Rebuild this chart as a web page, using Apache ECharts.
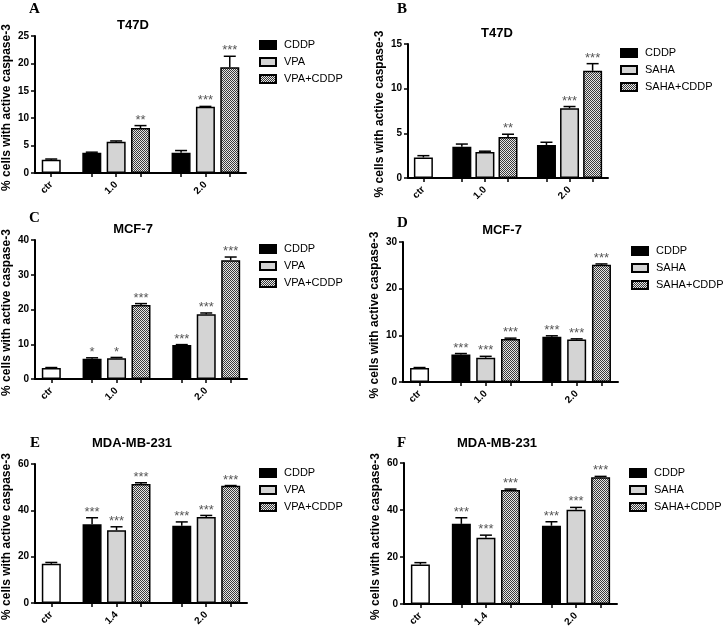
<!DOCTYPE html>
<html><head><meta charset="utf-8">
<script src="https://cdn.jsdelivr.net/npm/echarts@6/dist/echarts.min.js"></script>
<style>html,body{margin:0;padding:0;background:#fff}#c{width:728px;height:631px}</style>
</head><body><div id="c"></div>
<script>
// ---------------- data ----------------
const panelLetters = ['A','B','C','D','E','F'];
const cellLines = ['T47D','T47D','MCF-7','MCF-7','MDA-MB-231','MDA-MB-231'];
const drugNames = ['VPA','SAHA','VPA','SAHA','VPA','SAHA'];
const doseLabels = [['1.0','2.0'],['1.0','2.0'],['1.0','2.0'],['1.0','2.0'],['1.4','2.0'],['1.4','2.0']];
const yMax = [25,15,40,30,60,60];
const yStep = [5,5,10,10,20,20];
const yAxisName = '% cells with active caspase-3';
const ctrValues = [2.4,2.3,3.2,3.0,16.9,16.8];
const ctrErrors = [0.15,0.2,0.1,0.1,0.6,0.8];
const cddpValues = [[3.7,3.7],[3.5,3.7],[5.8,9.8],[5.9,9.7],[34.0,33.3],[34.1,33.3]];
const cddpErrors = [[0.1,0.4],[0.3,0.3],[0.3,0.1],[0.2,0.2],[2.8,1.7],[2.6,1.7]];
const drugValues = [[5.7,12.1],[2.9,7.8],[6.0,18.6],[5.2,9.1],[31.4,37.1],[28.2,40.1]];
const drugErrors = [[0.15,0.05],[0.1,0.2],[0.2,0.4],[0.3,0.15],[1.5,0.7],[1.1,1.0]];
const comboValues = [[8.2,19.3],[4.6,12.0],[21.3,34.2],[9.2,25.1],[51.4,50.6],[48.5,53.9]];
const comboErrors = [[0.45,2.0],[0.3,0.8],[0.4,0.9],[0.2,0.2],[0.5,0.1],[0.4,0.4]];
const cddpSig = [['',''],['',''],['*','***'],['***','***'],['***','***'],['***','***']];
const drugSig = [['','***'],['','***'],['*','***'],['***','***'],['***','***'],['***','***']];
const comboSig = [['**','***'],['**','***'],['***','***'],['***','***'],['***','***'],['***','***']];

// ---------------- layout ----------------
const grids = [
  {left:35, top:36, width:211, height:137},
  {left:408, top:44, width:200, height:134},
  {left:34, top:240, width:213, height:139},
  {left:403, top:242, width:215, height:140},
  {left:34, top:464, width:213, height:139},
  {left:404, top:463, width:213, height:141}
];
const titlePos = [[133,25],[497,33],[133,229],[502,230],[132,443],[497,443]];
const letterPos = [[29,9.5],[397,9],[29,218.5],[397,223],[30,443],[397,443]];
const legendPos = [[259,39],[620,47],[259,243],[631,245],[259,467],[629,467]];
const SLOT_COUNT = 27, CTR_SLOT = 2;
const GROUP_SLOTS = [[7,10,13],[18,21,24]]; // [dose][cddp, drug, combo]
const SANS = 'Liberation Sans, Arial, sans-serif';
const SERIF = 'Liberation Serif, Times New Roman, serif';

// checkered pattern for combination bars
const pc = document.createElement('canvas');
pc.width = 2; pc.height = 2;
const pctx = pc.getContext('2d');
pctx.fillStyle = '#e6e6e6'; pctx.fillRect(0,0,2,2);
pctx.fillStyle = '#3a3a3a'; pctx.fillRect(0,0,1,1); pctx.fillRect(1,1,1,1);
const checker = {image: pc, repeat: 'repeat'};

const categories = Array.from({length: SLOT_COUNT}, (_, i) => 's' + i);
const barSlots = [CTR_SLOT].concat(GROUP_SLOTS[0], GROUP_SLOTS[1]);

const xAxes = [], yAxes = [], series = [], legends = [], graphics = [];
const baseBar = {type:'bar', barWidth:19, barGap:'-100%', itemStyle:{borderColor:'#000', borderWidth:1.5}};

for (let p = 0; p < 6; p++) {
  const labelAt = {};
  labelAt[CTR_SLOT] = 'ctr';
  labelAt[GROUP_SLOTS[0][1]] = doseLabels[p][0];
  labelAt[GROUP_SLOTS[1][1]] = doseLabels[p][1];
  xAxes.push({
    gridIndex:p, type:'category', data:categories, boundaryGap:false,
    axisLine:{lineStyle:{color:'#000', width:2}},
    axisTick:{interval:(i) => barSlots.indexOf(i) >= 0, length:4, lineStyle:{color:'#000', width:1.5}},
    axisLabel:{interval:0, rotate:45, margin:10, formatter:(v, i) => labelAt[i] || '',
      fontSize:10, fontWeight:'bold', color:'#000', fontFamily:SANS},
    splitLine:{show:false}
  });
  yAxes.push({
    gridIndex:p, type:'value', min:0, max:yMax[p], interval:yStep[p],
    axisLine:{show:true, lineStyle:{color:'#000', width:2}},
    axisTick:{show:true, length:4, lineStyle:{color:'#000', width:1.5}},
    splitLine:{show:false},
    axisLabel:{fontSize:10, fontWeight:'bold', color:'#000', margin:6, fontFamily:SANS},
    name:yAxisName, nameLocation:'middle', nameGap:22, nameRotate:90,
    nameTextStyle:{fontSize:12, fontWeight:'bold', color:'#000', fontFamily:SANS, padding:[0,6,0,0]}
  });
  const empty = () => new Array(SLOT_COUNT).fill(null);
  const ctrData = empty(); ctrData[CTR_SLOT] = ctrValues[p];
  const cddpData = empty(), drugData = empty(), comboData = empty();
  const errRows = [[CTR_SLOT, ctrValues[p], ctrErrors[p], '']];
  for (let g = 0; g < 2; g++) {
    cddpData[GROUP_SLOTS[g][0]] = cddpValues[p][g];
    drugData[GROUP_SLOTS[g][1]] = drugValues[p][g];
    comboData[GROUP_SLOTS[g][2]] = comboValues[p][g];
    errRows.push([GROUP_SLOTS[g][0], cddpValues[p][g], cddpErrors[p][g], cddpSig[p][g]]);
    errRows.push([GROUP_SLOTS[g][1], drugValues[p][g], drugErrors[p][g], drugSig[p][g]]);
    errRows.push([GROUP_SLOTS[g][2], comboValues[p][g], comboErrors[p][g], comboSig[p][g]]);
  }
  const drug = drugNames[p], combo = drugNames[p] + '+CDDP';
  series.push(Object.assign({}, baseBar, {name:'ctr', xAxisIndex:p, yAxisIndex:p, data:ctrData,
    itemStyle:{color:'#fff', borderColor:'#000', borderWidth:1.5}}));
  series.push(Object.assign({}, baseBar, {name:'CDDP', xAxisIndex:p, yAxisIndex:p, data:cddpData,
    itemStyle:{color:'#000', borderColor:'#000', borderWidth:1.5}}));
  series.push(Object.assign({}, baseBar, {name:drug, xAxisIndex:p, yAxisIndex:p, data:drugData,
    itemStyle:{color:'#d4d4d4', borderColor:'#000', borderWidth:1.5}}));
  series.push(Object.assign({}, baseBar, {name:combo, xAxisIndex:p, yAxisIndex:p, data:comboData,
    itemStyle:{color:checker, borderColor:'#000', borderWidth:1.5}}));
  series.push({
    type:'custom', xAxisIndex:p, yAxisIndex:p, z:5, silent:true,
    data: errRows.map(r => [r[0], r[1], r[2]]),
    renderItem: (params, api) => {
      const d = errRows[params.dataIndex];
      const base = api.coord([d[0], d[1]]);
      const top = api.coord([d[0], d[1] + d[2]]);
      const children = [];
      if (d[2] > 0) {
        children.push({type:'line', shape:{x1:base[0], y1:base[1], x2:top[0], y2:top[1]},
          style:{stroke:'#000', lineWidth:1.5}});
        children.push({type:'line', shape:{x1:top[0]-6, y1:top[1], x2:top[0]+6, y2:top[1]},
          style:{stroke:'#000', lineWidth:1.5}});
      }
      if (d[3]) {
        children.push({type:'text', x:top[0], y:top[1] + 1,
          style:{text:d[3], align:'center', verticalAlign:'bottom', fill:'#555', font:'13px ' + SANS}});
      }
      return {type:'group', children};
    }
  });
  legends.push({
    orient:'vertical', left:legendPos[p][0], top:legendPos[p][1], padding:0,
    itemWidth:16, itemHeight:8, itemGap:5, icon:'rect', selectedMode:false,
    data:['CDDP', drug, combo],
    textStyle:{fontSize:11, color:'#000', fontFamily:SANS, lineHeight:12, padding:[0,0,0,3]}
  });
  graphics.push({type:'text', x:titlePos[p][0], y:titlePos[p][1],
    style:{text:cellLines[p], align:'center', verticalAlign:'middle', fill:'#000',
      font:'bold 13px ' + SANS}});
  graphics.push({type:'text', x:letterPos[p][0], y:letterPos[p][1],
    style:{text:panelLetters[p], align:'left', verticalAlign:'middle', fill:'#000',
      font:'bold 15px ' + SERIF}});
}

const chart = echarts.init(document.getElementById('c'));
chart.setOption({
  animation:false,
  backgroundColor:'#fff',
  grid:grids.map(g => Object.assign({containLabel:false}, g)),
  xAxis:xAxes, yAxis:yAxes, series, legend:legends, graphic:graphics
});
</script></body></html>
